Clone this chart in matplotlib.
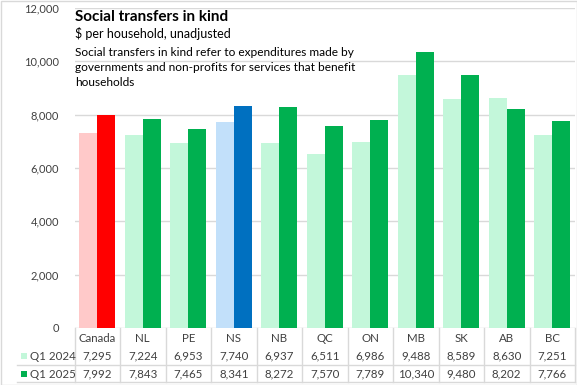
import matplotlib
matplotlib.use("Agg")
import matplotlib.pyplot as plt
from matplotlib.lines import Line2D
from matplotlib.patches import Rectangle
import matplotlib.transforms as mtransforms

categories = ["Canada", "NL", "PE", "NS", "NB", "QC", "ON", "MB", "SK", "AB", "BC"]
q1_2024 = [7295, 7224, 6953, 7740, 6937, 6511, 6986, 9488, 8589, 8630, 7251]
q1_2025 = [7992, 7843, 7465, 8341, 8272, 7570, 7789, 10340, 9480, 8202, 7766]
series_names = ["Q1 2024", "Q1 2025"]
yticks = [0, 2000, 4000, 6000, 8000, 10000, 12000]

mint = "#C3F7DA"
green = "#00B050"
c24 = [mint] * len(categories)
c25 = [green] * len(categories)
c24[0], c25[0] = "#FFC9C9", "#FF0000"
c24[3], c25[3] = "#C2E0FA", "#0070C0"

W, H = 577, 385
fig = plt.figure(figsize=(W / 100, H / 100), dpi=100)
plt.rcParams['font.family'] = ['Lato', 'DejaVu Sans']

left, right, top, bottom = 74.5, 575, 8, 328
ax = fig.add_axes([left / W, 1 - bottom / H, (right - left) / W, (bottom - top) / H])
n = len(categories)
x = list(range(n))
bw = 0.4
ax.bar([i - bw / 2 for i in x], q1_2024, width=bw, color=c24, zorder=3)
ax.bar([i + bw / 2 for i in x], q1_2025, width=bw, color=c25, zorder=3)
ax.set_xlim(-0.5, n - 0.5)
ax.set_ylim(0, 12000)
ax.set_yticks(yticks)
ax.set_yticklabels([f"{v:,}" for v in yticks], fontsize=8, color="#404040")
ax.tick_params(axis='y', length=0, pad=11)
ax.set_xticks([])
for s in ax.spines.values():
    s.set_visible(False)
ax.grid(axis='y', color="#D9D9D9", linewidth=1, zorder=0)
ax.set_axisbelow(True)

# Figure border
fig.add_artist(Rectangle((0.5 / W, 0.5 / H), (W - 1) / W, (H - 1) / H,
                         transform=fig.transFigure, fill=False,
                         edgecolor="#D9D9D9", linewidth=1))

def fy(py):
    return 1 - py / H

def fx(px):
    return px / W

# Titles
fig.text(fx(75), fy(17), "Social transfers in kind", fontsize=11, fontweight='bold',
         va='center', ha='left', color="#000000")
fig.text(fx(75), fy(34), "$ per household, unadjusted", fontsize=9,
         va='center', ha='left', color="#000000")
desc = ["Social transfers in kind refer to expenditures made by",
        "governments and non-profits for services that benefit",
        "households"]
for k, line in enumerate(desc):
    fig.text(fx(75), fy(52 + 15.5 * k), line, fontsize=8.6, va='center', ha='left',
             color="#000000")

# Data table
trans = mtransforms.blended_transform_factory(ax.transData, fig.transFigure)
grid_c = "#D9D9D9"
row_y = [338, 356, 374]
t_top, t_mid, t_bot = 328, 365, 382
for i in range(n + 1):
    fig.add_artist(Line2D([i - 0.5, i - 0.5], [fy(t_top), fy(t_bot)], transform=trans,
                          color=grid_c, linewidth=1))
for yy in (t_mid, t_bot):
    fig.add_artist(Line2D([fx(17), fx(right)], [fy(yy), fy(yy)], transform=fig.transFigure,
                          color=grid_c, linewidth=1))
for i, cat in enumerate(categories):
    fig.text(i, fy(row_y[0]), cat, transform=trans, ha='center', va='center',
             fontsize=8.3, color="#404040")
    fig.text(i, fy(row_y[1]), f"{q1_2024[i]:,}", transform=trans, ha='center', va='center',
             fontsize=8.3, color="#404040")
    fig.text(i, fy(row_y[2]), f"{q1_2025[i]:,}", transform=trans, ha='center', va='center',
             fontsize=8.3, color="#404040")
for k, (name, col) in enumerate(zip(series_names, [mint, green])):
    yc = row_y[k + 1]
    fig.add_artist(Rectangle((fx(21), fy(yc + 3)), 6 / W, 6 / H, transform=fig.transFigure,
                             facecolor=col, edgecolor='none'))
    fig.text(fx(30), fy(yc), name, ha='left', va='center', fontsize=8.3, color="#404040")

fig.savefig("out.png", dpi=100)
